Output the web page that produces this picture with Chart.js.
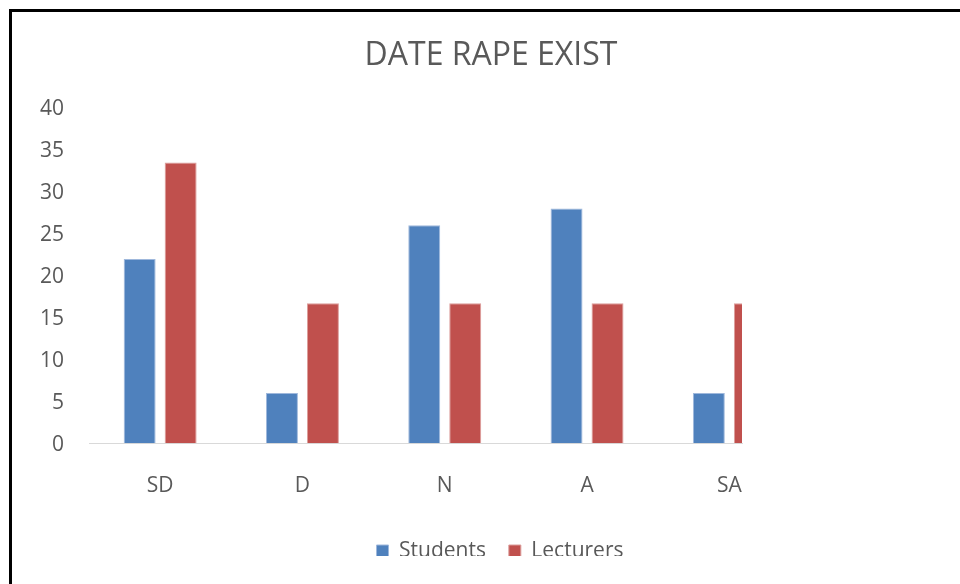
<!DOCTYPE html>
<html>
<head>
<meta charset="utf-8">
<script src="https://cdn.jsdelivr.net/npm/chart.js@4"></script>
<style>
  html, body { margin: 0; padding: 0; background: #fff; overflow: hidden; }
  /* Rahmen: nur oben und links sichtbar */
  #frame {
    position: absolute; left: 9px; top: 9px;
    width: 1000px; height: 700px;
    border-left: 3px solid #000; border-top: 3px solid #000;
  }
  /* Diagramm unten abgeschnitten (Legende nur halb sichtbar) */
  #wrap {
    position: absolute; left: 12px; top: 12px;
    width: 958px; height: 544px; overflow: hidden;
  }
</style>
</head>
<body>
<div id="frame"></div>
<div id="wrap"><canvas id="chart" width="958" height="560"></canvas></div>
<script>
// --- Daten ---
const categories = ['SD', 'D', 'N', 'A', 'SA'];
const students = [22, 6, 26, 28, 6];
const lecturers = [33.5, 16.7, 16.7, 16.7, 16.7];
const yTicks = [0, 5, 10, 15, 20, 25, 30, 35, 40];

const textColor = '#595959';
const fontFamily = "'Open Sans', sans-serif";

// Punkte fuer die lineare x-Achse (Index = Kategorie)
function toPoints(values) {
  return values.map((v, i) => ({ x: i, y: v }));
}

// Legende etwas nach rechts schieben
const legendShift = {
  id: 'legendShift',
  afterLayout(chart) {
    chart.legend.left += 9;
    chart.legend.right += 9;
  }
};

const ctx = document.getElementById('chart').getContext('2d');
new Chart(ctx, {
  type: 'bar',
  data: {
    datasets: [
      {
        label: 'Students  ',
        data: toPoints(students),
        backgroundColor: '#4F81BD',
        borderColor: '#9fb8dc',
        borderWidth: 1,
        categoryPercentage: 0.576,
        barPercentage: 0.78,
        clip: 0
      },
      {
        label: 'Lecturers',
        data: toPoints(lecturers),
        backgroundColor: '#C0504D',
        borderColor: '#dc9d9b',
        borderWidth: 1,
        categoryPercentage: 0.576,
        barPercentage: 0.78,
        clip: 0
      }
    ]
  },
  options: {
    responsive: false,
    animation: false,
    layout: { padding: { left: 0, right: 0, top: 0, bottom: 0.5 } },
    scales: {
      x: {
        type: 'linear',
        offset: false,
        min: -0.5,
        max: 4.089, // Plotbereich endet kurz nach SA
        grid: { display: false, drawTicks: false },
        border: { display: true, color: '#d9d9d9', width: 1 },
        afterBuildTicks: axis => { axis.ticks = categories.map((c, i) => ({ value: i })); },
        ticks: {
          autoSkip: false,
          maxRotation: 0,
          padding: 30,
          color: textColor,
          font: { family: fontFamily, size: 21 },
          callback: v => categories[v] ?? ''
        }
      },
      y: {
        min: 0,
        max: 40,
        grid: { display: false, drawTicks: false },
        border: { display: false },
        afterBuildTicks: axis => { axis.ticks = yTicks.map(v => ({ value: v })); },
        afterFit: axis => { axis.width = 77; },
        ticks: {
          padding: 25,
          labelOffset: 1.5,
          color: textColor,
          font: { family: fontFamily, size: 21 }
        }
      },
      // leerer Rand rechts neben dem Plotbereich
      yRight: {
        position: 'right',
        display: true,
        grid: { display: false, drawTicks: false },
        border: { display: false },
        ticks: { display: false },
        afterFit: axis => { axis.width = 228; }
      }
    },
    plugins: {
      title: {
        display: true,
        text: 'DATE RAPE EXIST',
        color: textColor,
        font: { family: fontFamily, size: 32, weight: 'normal' },
        padding: { top: 25, bottom: 32.6 }
      },
      legend: {
        position: 'bottom',
        labels: {
          boxWidth: 12,
          boxHeight: 12,
          padding: 12,
          color: textColor,
          font: { family: fontFamily, size: 21 }
        }
      },
      tooltip: { enabled: false }
    }
  },
  plugins: [legendShift]
});
</script>
</body>
</html>
